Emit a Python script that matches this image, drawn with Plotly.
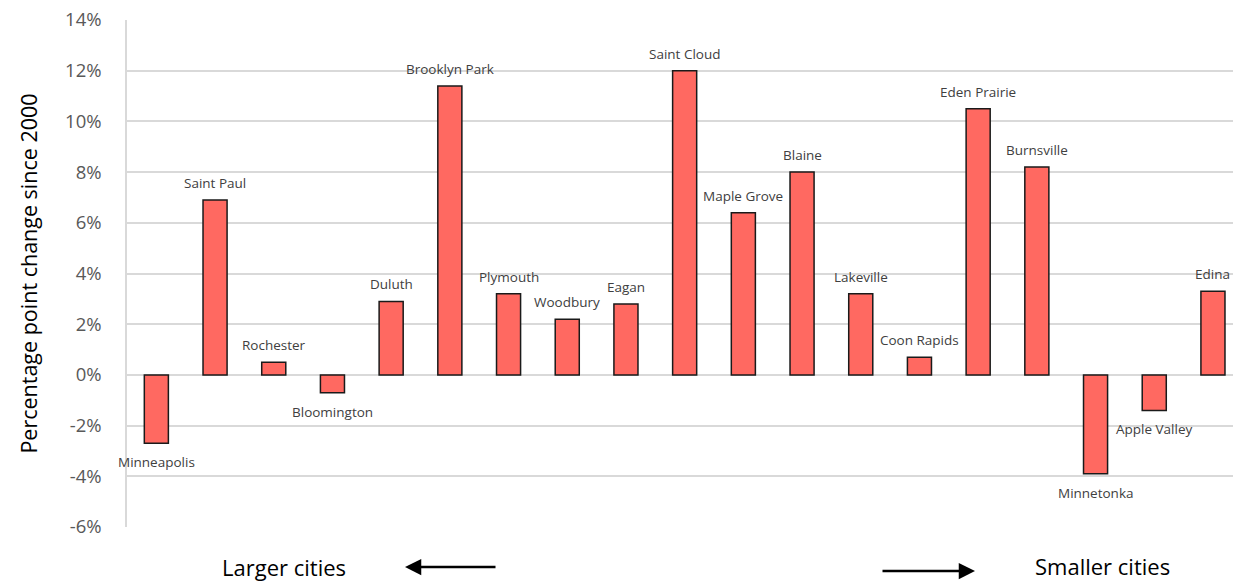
import plotly.graph_objects as go

cities = ["Minneapolis", "Saint Paul", "Rochester", "Bloomington", "Duluth",
          "Brooklyn Park", "Plymouth", "Woodbury", "Eagan", "Saint Cloud",
          "Maple Grove", "Blaine", "Lakeville", "Coon Rapids", "Eden Prairie",
          "Burnsville", "Minnetonka", "Apple Valley", "Edina"]
change_pct = [-2.7, 6.9, 0.5, -0.7, 2.9, 11.4, 3.2, 2.2, 2.8, 12.0,
              6.4, 8.0, 3.2, 0.7, 10.5, 8.2, -3.9, -1.4, 3.3]
y_ticks = [-6, -4, -2, 0, 2, 4, 6, 8, 10, 12, 14]
y_tick_labels = [f"{t}%" for t in y_ticks]

W, H = 1233, 584
L, T, B = 127, 20, 57
plot_w = W - L
plot_h = H - T - B

xs = list(range(len(cities)))

fig = go.Figure()
fig.add_trace(go.Bar(
    x=xs, y=change_pct, width=0.41,
    marker=dict(color="#FF6961", line=dict(color="#1a1a1a", width=1.5)),
    hoverinfo="skip",
))

annotations = []
for x, c, v in zip(xs, cities, change_pct):
    annotations.append(dict(
        x=x, y=v, xref="x", yref="y", text=c, showarrow=False,
        xanchor="center", yanchor="middle",
        yshift=17 if v >= 0 else -19,
        font=dict(family="Open Sans", size=13.5, color="#404040"),
    ))

def px_to_paper_x(px):
    return (px - L) / plot_w

def py_to_paper_y(py):
    return (H - B - py) / plot_h

annotations.append(dict(x=px_to_paper_x(284), y=py_to_paper_y(567), xref="paper", yref="paper",
                        xanchor="center", yanchor="middle",
                        text="Larger cities", showarrow=False,
                        font=dict(family="Open Sans", size=22, color="#000000")))
annotations.append(dict(x=px_to_paper_x(1102), y=py_to_paper_y(566), xref="paper", yref="paper",
                        xanchor="center", yanchor="middle",
                        text="Smaller cities", showarrow=False,
                        font=dict(family="Open Sans", size=22, color="#000000")))
annotations.append(dict(x=px_to_paper_x(405), y=py_to_paper_y(567), xref="paper", yref="paper",
                        ax=92, ay=0, text="", showarrow=True, arrowhead=2, arrowsize=1.3,
                        arrowwidth=2.5, arrowcolor="#000000"))
annotations.append(dict(x=px_to_paper_x(975), y=py_to_paper_y(571), xref="paper", yref="paper",
                        ax=-94, ay=0, text="", showarrow=True, arrowhead=2, arrowsize=1.3,
                        arrowwidth=2.5, arrowcolor="#000000"))

fig.update_layout(
    width=W, height=H,
    margin=dict(l=L, r=0, t=T, b=B, pad=0),
    paper_bgcolor="white", plot_bgcolor="white",
    showlegend=False,
    annotations=annotations,
    xaxis=dict(range=[-0.5, -0.5 + plot_w / 58.7], showticklabels=False, showgrid=False,
               zeroline=False, ticks=""),
    yaxis=dict(range=[-6, 14], tickvals=y_ticks, ticktext=y_tick_labels,
               showgrid=True, gridcolor="#d9d9d9", gridwidth=1.5,
               zeroline=True, zerolinecolor="#d9d9d9", zerolinewidth=1.5,
               showline=True, linecolor="#d9d9d9", linewidth=1.5,
               ticks="", ticklabelstandoff=20,
               tickfont=dict(family="Open Sans", size=18.5, color="#595959"),
               title=dict(text="Percentage point change since 2000", standoff=22,
                          font=dict(family="Open Sans", size=21.5, color="#000000"))),
)

fig.write_html("out.html")
